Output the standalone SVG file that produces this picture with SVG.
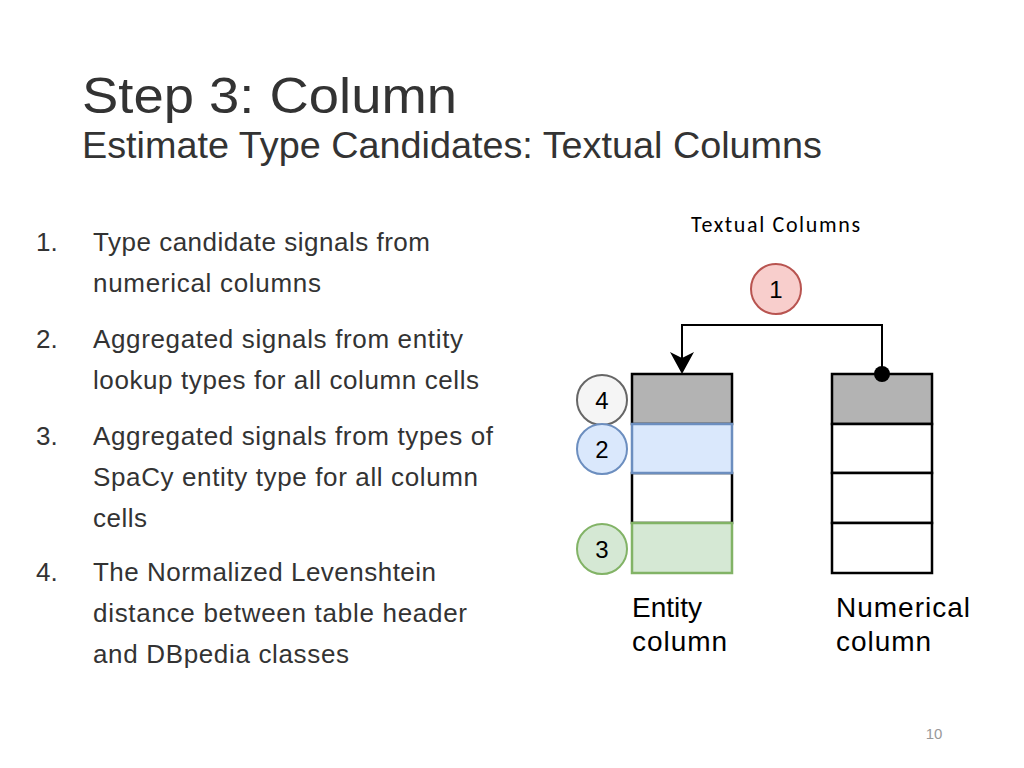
<svg xmlns="http://www.w3.org/2000/svg" width="1024" height="768" viewBox="0 0 1024 768">
<style>
.t{font-family:"Liberation Sans",Arial,sans-serif;fill:#333}
.b{font-family:"Liberation Sans",Arial,sans-serif;font-size:28px;fill:#000}
.c{font-family:"Liberation Sans",Arial,sans-serif;font-size:24px;fill:#000;text-anchor:middle}
.cell{stroke:#000;stroke-width:2.5}
</style>
<rect width="1024" height="768" fill="#fff"/>
<text class="t" x="82" y="113" font-size="50" textLength="375" lengthAdjust="spacingAndGlyphs">Step 3: Column</text>
<text class="t" x="82" y="158" font-size="36" textLength="740" lengthAdjust="spacingAndGlyphs">Estimate Type Candidates: Textual Columns</text>
<g class="t" font-size="26">
<text x="36" y="251">1.</text><text x="93" y="251" textLength="337">Type candidate signals from</text><text x="93" y="292" textLength="228">numerical columns</text>
<text x="36" y="348">2.</text><text x="93" y="348" textLength="370">Aggregated signals from entity</text><text x="93" y="389" textLength="386">lookup types for all column cells</text>
<text x="36" y="445">3.</text><text x="93" y="445" textLength="400">Aggregated signals from types of</text><text x="93" y="486" textLength="385">SpaCy entity type for all column</text><text x="93" y="527" textLength="54">cells</text>
<text x="36" y="581">4.</text><text x="93" y="581" textLength="343">The Normalized Levenshtein</text><text x="93" y="622" textLength="374">distance between table header</text><text x="93" y="663" textLength="256">and DBpedia classes</text>
</g>
<text x="691" y="232" font-family="Carlito,'Liberation Sans',sans-serif" font-size="22" fill="#000" textLength="169">Textual Columns</text>
<g id="entity">
<rect class="cell" x="632" y="374" width="100" height="50" fill="#b3b3b3"/>
<rect class="cell" x="632" y="473" width="100" height="50" fill="#fff"/>
<rect x="632" y="424" width="100" height="49" fill="#dae8fc" stroke="#6c8ebf" stroke-width="2.5"/>
<rect x="632" y="523" width="100" height="50" fill="#d5e8d4" stroke="#82b366" stroke-width="2.5"/>
<text class="b" x="632" y="617">Entity</text><text class="b" x="632" y="651" textLength="95">column</text>
</g>
<g id="numerical">
<rect class="cell" x="832" y="374" width="100" height="50" fill="#b3b3b3"/>
<rect class="cell" x="832" y="424" width="100" height="49" fill="#fff"/>
<rect class="cell" x="832" y="473" width="100" height="50" fill="#fff"/>
<rect class="cell" x="832" y="523" width="100" height="50" fill="#fff"/>
<text class="b" x="836" y="617" textLength="134">Numerical</text><text class="b" x="836" y="651" textLength="95">column</text>
</g>
<g id="c1"><circle cx="776" cy="289" r="25" fill="#f8cecc" stroke="#b85450" stroke-width="2"/><text class="c" x="776" y="298">1</text></g>
<g id="c4"><circle cx="602" cy="400" r="25" fill="#f5f5f5" stroke="#666" stroke-width="2"/><text class="c" x="602" y="409">4</text></g>
<g id="c2"><circle cx="602" cy="449" r="25" fill="#dae8fc" stroke="#6c8ebf" stroke-width="2"/><text class="c" x="602" y="458">2</text></g>
<g id="c3"><circle cx="602" cy="549" r="25" fill="#d5e8d4" stroke="#82b366" stroke-width="2"/><text class="c" x="602" y="558">3</text></g>
<g id="connectors">
<path d="M882,374 V325 H682 V372" fill="none" stroke="#000" stroke-width="2"/>
<path d="M682,374 L670,352 L682,358 L694,352 Z" fill="#000"/>
<circle cx="882" cy="374" r="8" fill="#000"/>
</g>
<text x="934" y="739" font-family="'Liberation Sans',sans-serif" font-size="15" fill="#999" text-anchor="middle">10</text>
</svg>
